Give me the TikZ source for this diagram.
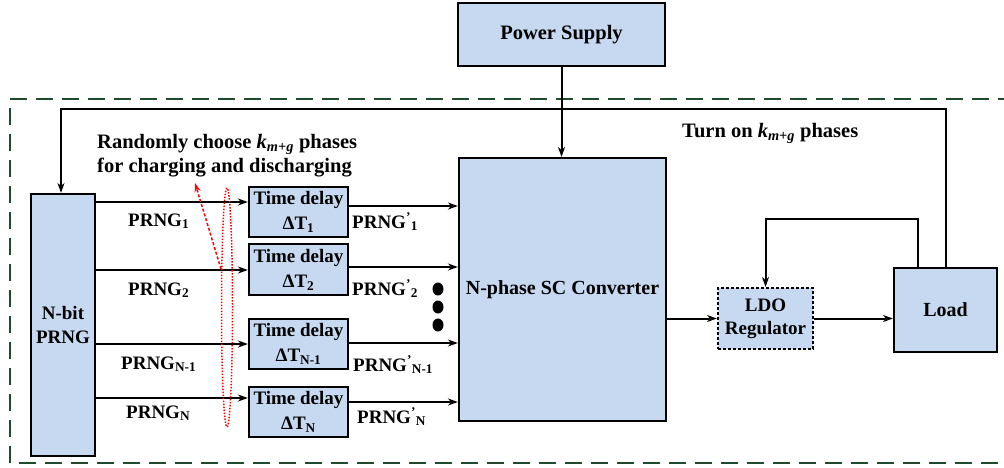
\documentclass[tikz,border=0pt]{standalone}
\usepackage{fontspec}
\setmainfont{Liberation Serif}
\usetikzlibrary{arrows.meta}
\definecolor{boxblue}{RGB}{198,217,240}
\definecolor{dgreen}{RGB}{30,75,45}
\begin{document}
\begin{tikzpicture}[x=1pt,y=-1pt,
  blk/.style={draw=black,line width=2.2pt,fill=boxblue,inner sep=0pt,align=center,
     font=\fontsize{19}{24}\selectfont\bfseries},
  arr/.style={line width=2pt,-{Stealth[length=10pt,width=7pt]}},
  lbl/.style={anchor=base west,inner sep=0pt,font=\fontsize{19}{24}\selectfont\bfseries},
  ann/.style={anchor=base west,inner sep=0pt,font=\fontsize{20.5}{24}\selectfont\bfseries},
  redell/.style={draw=red,line width=1.5pt,dash pattern=on 1.5pt off 1.5pt},
  redarr/.style={draw=red,line width=1.5pt,dash pattern=on 3pt off 2pt,-{Stealth[length=9pt,width=6pt]}}]
\useasboundingbox (0,0) rectangle (1004,467);
\fill[white] (0,0) rectangle (1004,467);
% outer dashed frame
\draw[dgreen,line width=2.2pt,dash pattern=on 17pt off 9pt] (1015,99) -- (10,99) -- (10,463) -- (1015,463);
% blocks
\node[blk,minimum width=207pt,minimum height=63pt,font=\fontsize{20.5}{24}\selectfont\bfseries] (pwr) at (561.5,34.5) {Power Supply};
\node[blk,minimum width=64pt,minimum height=262pt] (prng) at (63,325) {N-bit\\PRNG};
\node[blk,minimum width=99pt,minimum height=50pt,font=\fontsize{19}{25}\selectfont\bfseries] (td1) at (298.5,212) {Time delay\\ΔT\textsubscript{1}};
\node[blk,minimum width=99pt,minimum height=51pt,font=\fontsize{19}{25}\selectfont\bfseries] (td2) at (298.5,269.5) {Time delay\\ΔT\textsubscript{2}};
\node[blk,minimum width=99pt,minimum height=50pt,font=\fontsize{19}{25}\selectfont\bfseries] (td3) at (298.5,344) {Time delay\\ΔT\textsubscript{N-1}};
\node[blk,minimum width=99pt,minimum height=50pt,font=\fontsize{19}{25}\selectfont\bfseries] (td4) at (298.5,412) {Time delay\\ΔT\textsubscript{N}};
\node[blk,minimum width=207pt,minimum height=263pt,font=\fontsize{20}{24}\selectfont\bfseries] (sc) at (562.5,289.5) {N-phase SC Converter};
\node[blk,dash pattern=on 3pt off 2pt,minimum width=95pt,minimum height=61pt,font=\fontsize{19}{23}\selectfont\bfseries] (ldo) at (765.5,318.5) {LDO\\Regulator};
\node[blk,minimum width=103pt,minimum height=84pt,font=\fontsize{20}{24}\selectfont\bfseries] (load) at (945.5,310) {Load};
% dots
\fill[black] (438,289) ellipse [x radius=5.5pt,y radius=6.5pt];
\fill[black] (438,307) ellipse [x radius=5.5pt,y radius=6.5pt];
\fill[black] (438,325) ellipse [x radius=5.5pt,y radius=6.5pt];
% connectors prng -> delays
\draw[arr] (prng.east |- 0,202) -- (td1.west |- 0,202);
\draw[arr] (prng.east |- 0,270) -- (td2.west |- 0,270);
\draw[arr] (prng.east |- 0,344) -- (td3.west |- 0,344);
\draw[arr] (prng.east |- 0,398) -- (td4.west |- 0,398);
% delays -> converter
\draw[arr] (td1.east |- 0,206) -- (sc.west |- 0,206);
\draw[arr] (td2.east |- 0,267) -- (sc.west |- 0,267);
\draw[arr] (td3.east |- 0,343) -- (sc.west |- 0,343);
\draw[arr] (td4.east |- 0,402) -- (sc.west |- 0,402);
% power
\draw[arr] (pwr.south) -- (pwr.south |- sc.north);
% converter -> ldo -> load
\draw[arr] (sc.east |- ldo.west) -- (ldo.west);
\draw[arr] (ldo.east) -- (ldo.east -| load.west);
% inner loop load -> ldo
\draw[arr] ([xshift=-27.5pt]load.north) -- ++(0,-48) -| (ldo.north);
% feedback load -> prng
\draw[arr] (load.north) -- ++(0,-158) -| ([xshift=-2pt]prng.north);
% labels
\node[lbl] (l1) at (128,226) {PRNG\textsubscript{1}};
\node[lbl] (l2) at (128,295) {PRNG\textsubscript{2}};
\node[lbl] (l3) at (121,369) {PRNG\textsubscript{N-1}};
\node[lbl] (l4) at (126,418) {PRNG\textsubscript{N}};
\node[lbl] (o1) at (352,228) {PRNG\textsuperscript{'}\textsubscript{1}};
\node[lbl] (o2) at (352,295) {PRNG\textsuperscript{'}\textsubscript{2}};
\node[lbl] (o3) at (353,371) {PRNG\textsuperscript{'}\textsubscript{N-1}};
\node[lbl] (o4) at (357,423) {PRNG\textsuperscript{'}\textsubscript{N}};
\node[ann] (t1) at (97,148) {Randomly choose {\itshape k}\textsubscript{\itshape m+g} phases};
\node[ann] (t2) at (97,172) {for charging and discharging};
\node[ann] (t3) at (682,137) {Turn on {\itshape k}\textsubscript{\itshape m+g} phases};
% red annotation
\draw[redell] (227,307.5) ellipse [x radius=5.5pt,y radius=119.5pt];
\coordinate (ra1) at (221,269);
\coordinate (ra2) at (195,183);
\draw[redarr] (ra1) -- (ra2);
\end{tikzpicture}
\end{document}
